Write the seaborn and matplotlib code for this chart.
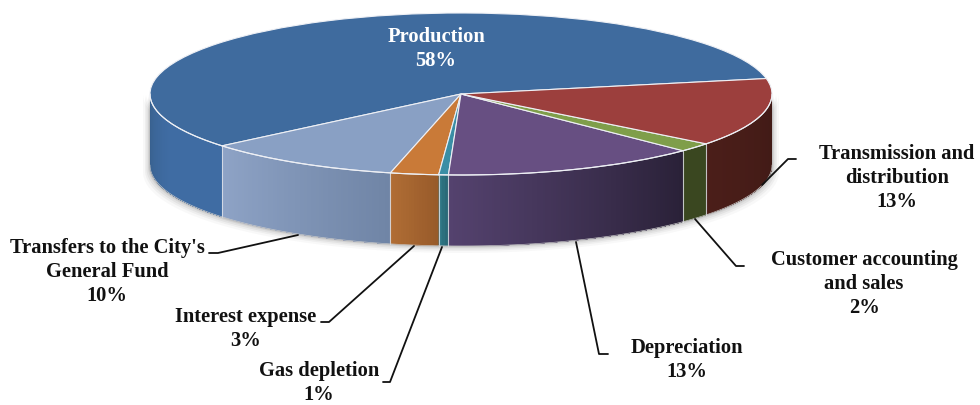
import numpy as np
import matplotlib
matplotlib.use('Agg')
import matplotlib.pyplot as plt
import seaborn as sns

# expense shares (labels are the rounded ones)
categories = ['Production', "Transfers to the City's\nGeneral Fund", 'Interest expense',
              'Gas depletion', 'Depreciation', 'Customer accounting\nand sales',
              'Transmission and\ndistribution']
shares = [58.0, 10.3, 2.5, 0.5, 13.3, 1.8, 13.6]
pct_labels = ['58%', '10%', '3%', '1%', '13%', '2%', '13%']

top_colors = ['#3f6b9e', '#89a0c4', '#c97a38', '#3a8ea5', '#674f82', '#7f9e4a', '#9c3f3d']
wall_left = ['#38608e', '#8ea3c6', '#b06d35', '#2f7785', '#54426e', '#3a4720', '#4b1e19']
wall_right = ['#3f6ca3', '#7085a6', '#985b2a', '#2a6a78', '#2a2138', '#3a4720', '#401a16']

label_pos = [(436, 49), (107, 272), (246, 329), (319, 383), (687, 360), (864, 284), (897, 178)]
leaders = [None,
           [(209, 253), (218, 253), (298, 235)],
           [(321, 322), (329, 322), (414, 246)],
           [(383, 382), (390, 382), (442, 247)],
           [(608, 354), (599, 354), (576, 242)],
           [(744, 266), (736, 266), (695, 219)],
           [(796, 159), (788, 159), (762, 185)]]

# ellipse geometry in pixels
cx, cy, rx, ry, depth = 461, 94, 311, 81, 71
start = 11

sns.set_theme(style='white')
plt.rcParams['font.family'] = ['Liberation Serif', 'DejaVu Serif']

fig = plt.figure(figsize=(9.8, 4.05), dpi=100)
ax = fig.add_axes([0, 0, 1, 1])
palette = sns.color_palette(top_colors)
ax.pie(shares, colors=palette, startangle=start, counterclock=True, radius=1,
       wedgeprops={'edgecolor': '#eef0f5', 'linewidth': 0.8, 'zorder': 5})

# squash the unit circle into the ellipse by way of the axis limits
ax.set_aspect('auto')
ax.set_xlim(-cx / rx, (980 - cx) / rx)
ax.set_ylim((cy - 405) / ry, cy / ry)
d = depth / ry

# soft shadow behind the wall
t = np.radians(np.linspace(180, 360, 181))
for grow, a in zip([7, 5, 3.5, 2, 1], [0.04, 0.06, 0.08, 0.1, 0.14]):
    gx = (rx + grow) / rx
    sx = np.concatenate([gx * np.cos(t), gx * np.cos(t[::-1])])
    sy = np.concatenate([np.sin(t), np.sin(t[::-1]) - d - grow / ry])
    ax.fill(sx, sy, color='#555555', alpha=a, lw=0, zorder=1)

# side wall, strip by strip, from the same shares as the pie
edges = start + np.cumsum([0] + shares) * 3.6
for i in range(len(shares)):
    a0, a1 = max(edges[i], 180), min(edges[i + 1], 360)
    if a1 <= a0:
        continue
    n = max(int((a1 - a0) * 2), 2)
    grad = sns.blend_palette([wall_left[i], wall_right[i]], n)
    ang = np.radians(np.linspace(a0, a1, n + 1))
    if i == 0:
        # the production wall brightens quickly from the far left, then stays flat
        grad = sns.blend_palette([wall_left[0], wall_right[0], wall_right[0]], n)
    for j in range(n):
        # each strip runs on to the end of the slice so no seams show between them
        arc = ang[j:]
        xs = np.concatenate([np.cos(arc), np.cos(arc[::-1])])
        ys = np.concatenate([np.sin(arc), np.sin(arc[::-1]) - d])
        ax.fill(xs, ys, color=grad[j], lw=0, zorder=3)
    if i > 0:
        x0, y0 = np.cos(ang[0]), np.sin(ang[0])
        ax.plot([x0, x0], [y0, y0 - d], color='#e4e7ee', lw=0.8, alpha=0.8, zorder=4)
    ax.plot(np.cos(ang), np.sin(ang), color='#eef0f5', lw=0.8, zorder=6)
    ax.plot(np.cos(ang), np.sin(ang) - d, color='#c8c8c8', lw=0.5, zorder=4)

# labels and leaders sit on a pixel sized overlay
over = fig.add_axes([0, 0, 1, 1])
over.set_xlim(0, 980)
over.set_ylim(405, 0)
over.axis('off')
over.patch.set_alpha(0)

for name, pct, pos, line in zip(categories, pct_labels, label_pos, leaders):
    col = 'white' if name == 'Production' else '#111111'
    over.text(pos[0], pos[1], name + '\n' + pct, color=col, fontsize=14.8, fontweight='bold',
              ha='center', va='center', linespacing=1.27)
    if line is not None:
        lx, ly = zip(*line)
        over.plot(lx, ly, color='#111111', lw=1.3)

fig.savefig('out.png', dpi=100)
